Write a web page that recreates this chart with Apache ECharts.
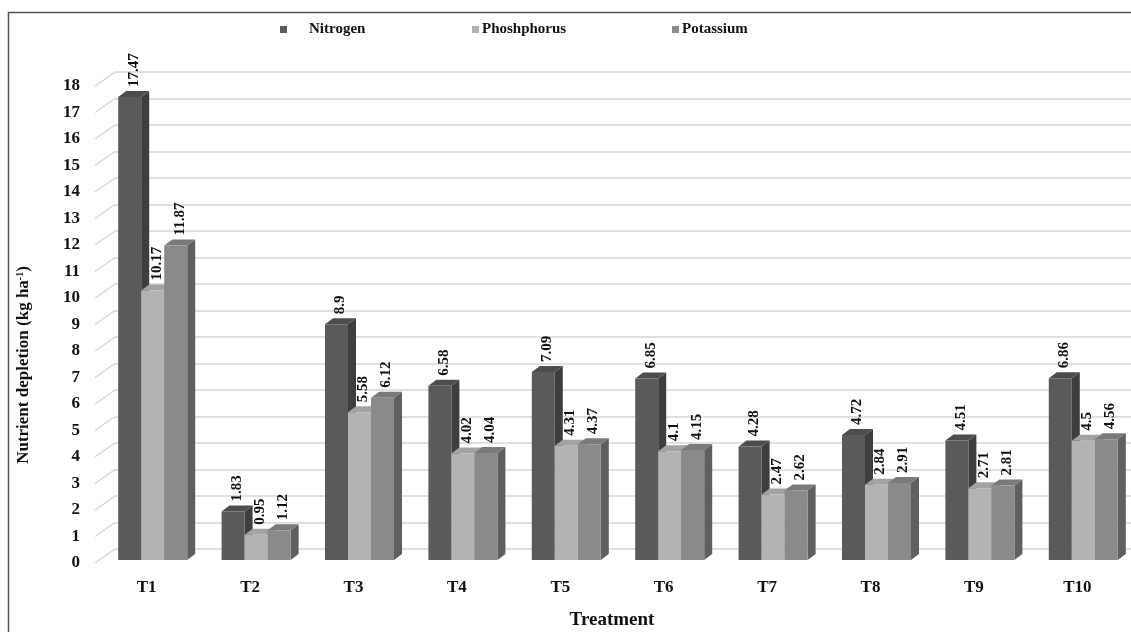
<!DOCTYPE html>
<html>
<head>
<meta charset="utf-8">
<script src="https://cdn.jsdelivr.net/npm/echarts@6/dist/echarts.min.js"></script>
<style>
  html, body { margin: 0; padding: 0; background: #fff; }
  #chart { width: 1131px; height: 632px; }
</style>
</head>
<body>
<div id="chart"></div>
<script>
// Treatments and nutrient depletion values (kg/ha)
const categories = ['T1', 'T2', 'T3', 'T4', 'T5', 'T6', 'T7', 'T8', 'T9', 'T10'];
const nitrogen   = [17.47, 1.83, 8.9, 6.58, 7.09, 6.85, 4.28, 4.72, 4.51, 6.86];
const phosphorus = [10.17, 0.95, 5.58, 4.02, 4.31, 4.1, 2.47, 2.84, 2.71, 4.5];
const potassium  = [11.87, 1.12, 6.12, 4.04, 4.37, 4.15, 2.62, 2.91, 2.81, 4.56];
const yTicks     = [0, 1, 2, 3, 4, 5, 6, 7, 8, 9, 10, 11, 12, 13, 14, 15, 16, 17, 18];

const FONT = '"Liberation Serif", "Times New Roman", serif';

// 3D look: wall depth and bar depth in pixels
const WALL_DX = 20, WALL_DY = -14;
const BAR_DX = 8, BAR_DY = -6;
const BAR_PLANE_DY = -3;
const GROUP_SHIFT = 6;
const BAR_FRAC = 0.2225;

const shades = {
  Nitrogen:   { front: '#5a5a5a', side: '#3e3e3e', top: '#4d4d4d' },
  Phosphorus: { front: '#b3b3b3', side: '#8f8f8f', top: '#a3a3a3' },
  Potassium:  { front: '#8a8a8a', side: '#5f5f5f', top: '#7a7a7a' }
};

function barSeries(name, values, slot) {
  const c = shades[name];
  return {
    name: name,
    type: 'custom',
    xAxisIndex: 0,
    yAxisIndex: 0,
    z: 10 + slot,
    itemStyle: { color: c.front },
    encode: { x: 0, y: 1 },
    data: values.map((v, i) => [i, v]),
    renderItem: function (params, api) {
      const idx = api.value(0);
      const val = api.value(1);
      const base = api.coord([idx, 0]);
      const top = api.coord([idx, val]);
      const band = api.size([1, 0])[0];
      const w = band * BAR_FRAC;
      const x0 = base[0] + GROUP_SHIFT - 1.5 * w + slot * w;
      const yb = base[1] + BAR_PLANE_DY;
      const yt = top[1] + BAR_PLANE_DY;
      return {
        type: 'group',
        children: [
          {
            type: 'polygon',
            shape: { points: [[x0 + w, yt], [x0 + w + BAR_DX, yt + BAR_DY], [x0 + w + BAR_DX, yb + BAR_DY], [x0 + w, yb]] },
            style: { fill: c.side }
          },
          {
            type: 'polygon',
            shape: { points: [[x0, yt], [x0 + w, yt], [x0 + w + BAR_DX, yt + BAR_DY], [x0 + BAR_DX, yt + BAR_DY]] },
            style: { fill: c.top }
          },
          {
            type: 'rect',
            shape: { x: x0, y: yt, width: w, height: yb - yt },
            style: { fill: c.front }
          },
          {
            type: 'text',
            x: x0 + w / 2 + BAR_DX / 2,
            y: yt + BAR_DY - 4,
            rotation: Math.PI / 2,
            style: {
              text: String(val),
              textAlign: 'left',
              textVerticalAlign: 'middle',
              font: 'bold 15px ' + FONT,
              fill: '#111'
            }
          }
        ]
      };
    }
  };
}

// slanted side-wall lines joining each tick to the back wall
const wallSeries = {
  type: 'custom',
  xAxisIndex: 0,
  yAxisIndex: 0,
  silent: true,
  z: 1,
  encode: { x: 0, y: 1 },
  data: yTicks.map(v => [0, v]),
  renderItem: function (params, api) {
    const p = api.coord([0, api.value(1)]);
    const x = params.coordSys.x;
    return {
      type: 'line',
      shape: { x1: x, y1: p[1], x2: x + WALL_DX, y2: p[1] + WALL_DY },
      style: { stroke: '#d6d6d6', lineWidth: 1.5 }
    };
  }
};

const legendBase = {
  orient: 'horizontal',
  top: 22,
  padding: 0,
  icon: 'rect',
  itemWidth: 7,
  itemHeight: 7,
  selectedMode: false,
  textStyle: { fontFamily: FONT, fontWeight: 'bold', fontSize: 15, color: '#111' }
};

const chart = echarts.init(document.getElementById('chart'), null, { renderer: 'canvas' });

chart.setOption({
  backgroundColor: '#fff',
  animation: false,
  legend: [
    Object.assign({}, legendBase, { left: 280, data: ['Nitrogen'],
      textStyle: Object.assign({}, legendBase.textStyle, { padding: [0, 0, 0, 17] }) }),
    Object.assign({}, legendBase, { left: 472, data: ['Phosphorus'],
      formatter: () => 'Phoshphorus', textStyle: Object.assign({}, legendBase.textStyle, { padding: [0, 0, 0, -2] }) }),
    Object.assign({}, legendBase, { left: 672, data: ['Potassium'],
      textStyle: Object.assign({}, legendBase.textStyle, { padding: [0, 0, 0, -2] }) })
  ],
  grid: [
    { left: 95, right: 2, top: 86, bottom: 69, outerBoundsMode: 'none', containLabel: false },
    { left: 95 + WALL_DX, right: 0, top: 86 + WALL_DY, bottom: 69 - WALL_DY, outerBoundsMode: 'none', containLabel: false }
  ],
  xAxis: [
    {
      type: 'category', gridIndex: 0, data: categories,
      axisLine: { show: false }, axisTick: { show: false },
      axisLabel: { margin: 16, fontFamily: FONT, fontWeight: 'bold', fontSize: 17, color: '#111' },
      name: 'Treatment', nameLocation: 'middle', nameGap: 48,
      nameTextStyle: { fontFamily: FONT, fontWeight: 'bold', fontSize: 19, color: '#111' }
    },
    {
      type: 'category', gridIndex: 1, data: categories, show: false
    }
  ],
  yAxis: [
    {
      type: 'value', gridIndex: 0, min: 0, max: 18, interval: 1,
      axisLine: { show: false }, axisTick: { show: false }, splitLine: { show: false },
      axisLabel: { margin: 15, fontFamily: FONT, fontWeight: 'bold', fontSize: 17, color: '#111' }
    },
    {
      type: 'value', gridIndex: 1, min: 0, max: 18, interval: 1,
      axisLine: { show: false }, axisTick: { show: false }, axisLabel: { show: false },
      splitLine: { show: true, lineStyle: { color: '#d6d6d6', width: 1.5 } }
    }
  ],
  graphic: [
    {
      type: 'rect', silent: true,
      shape: { x: 8.5, y: 12.5, width: 1200, height: 700 },
      style: { fill: 'none', stroke: '#555', lineWidth: 1.5 }
    },
    {
      type: 'text', silent: true,
      x: 24, y: 365, rotation: Math.PI / 2,
      style: {
        text: 'Nutrient depletion (kg ha{sup|-1})',
        textAlign: 'center', textVerticalAlign: 'middle',
        font: 'bold 17px ' + FONT, fill: '#111',
        rich: { sup: { fontSize: 10, fontWeight: 'bold', fontFamily: FONT, verticalAlign: 'top', padding: [0, 0, 8, 0] } }
      }
    }
  ],
  series: [
    wallSeries,
    barSeries('Nitrogen', nitrogen, 0),
    barSeries('Phosphorus', phosphorus, 1),
    barSeries('Potassium', potassium, 2)
  ]
});
</script>
</body>
</html>
